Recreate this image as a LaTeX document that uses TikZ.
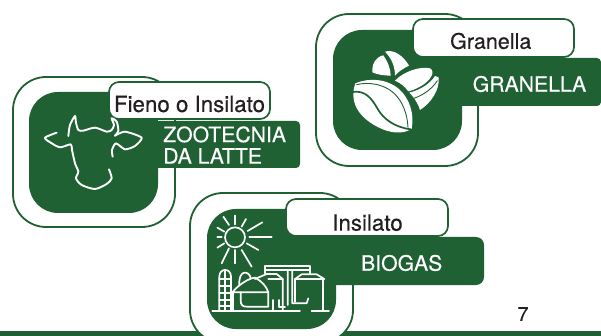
\documentclass[tikz,border=0pt]{standalone}
\usepackage{fontspec}
\setmainfont{TeX Gyre Heros}[FakeBold=0.35]
\newcommand{\heavy}{\addfontfeature{FakeBold=0.35}}
\definecolor{agri}{HTML}{1F6133}
\definecolor{ink}{HTML}{231F20}
\tikzset{
  outerbox/.style={draw=agri,line width=1.8pt,fill=white,rounded corners=33pt},
  innerbox/.style={fill=agri,rounded corners=29pt},
  bannerbox/.style={fill=agri,rounded corners=4pt},
  labelbox/.style={draw=agri,line width=1.7pt,fill=white,rounded corners=10pt},
  labeltext/.style={inner sep=0pt,text=ink,font=\fontsize{22.3}{24}\selectfont\heavy},
  bannertext/.style={inner sep=0pt,text=white,font=\fontsize{21.2}{21.5}\selectfont\heavy},
  icon/.style={draw=white,line width=1.9pt,line cap=round,line join=round},
  thinicon/.style={draw=white,line width=1.7pt,line cap=round,line join=round},
  groove/.style={draw=agri,line cap=round,line join=round},
  zoomcow/.style={shift={(40,100)},x=0.3333pt,y=-0.3333pt},
  zoombean/.style={shift={(340,40)},x=0.3333pt,y=-0.3333pt},
  zoombio/.style={shift={(205,205)},x=0.3333pt,y=-0.3333pt}
}
\begin{document}
\begin{tikzpicture}[x=1pt,y=-1pt]
\useasboundingbox (0,0) rectangle (601,336);
\clip (0,0) rectangle (601,336);
\fill[white] (0,0) rectangle (601,336);
\fill[agri] (0,331) rectangle (601,336);

% --- Zootecnia da latte
\draw[outerbox] (13,77) rectangle (175,227);
\fill[bannerbox] (140,121) rectangle (300,168);
\fill[innerbox] (29,92) rectangle (158,213);
\draw[labelbox] (109,82) rectangle (270,119);
\node[labeltext] (fieno) at (189.5,104) {Fieno o Insilato};
\node[bannertext,align=left,anchor=west] (zoo) at (163,145) {ZOOTECNIA\\DA LATTE};
\begin{scope}[zoomcow]
\draw[icon] plot[smooth,tension=0.45] coordinates {(50,98) (15,113) (32,128) (60,142) (92,133) (96,150) (105,190) (115,215) (108,235) (125,255) (165,267) (200,252) (215,235) (207,208)};
\draw[icon] plot[smooth,tension=0.45] coordinates {(85,108) (90,75) (105,48) (108,68) (115,90) (130,92) (165,83) (200,95) (215,90) (222,75) (215,55) (230,65) (235,92) (225,107)};
\draw[icon] plot[smooth,tension=0.4] coordinates {(225,107) (255,95) (305,113) (285,138) (255,148) (228,130) (216,150) (218,170)};
\end{scope}

% --- Granella
\draw[outerbox] (316,14) rectangle (478,166);
\fill[bannerbox] (440,58) rectangle (601,106);
\fill[innerbox] (333,30) rectangle (462,150);
\draw[labelbox] (413,19) rectangle (574,57);
\node[labeltext,font=\fontsize{21.5}{24}\selectfont\heavy] (gran) at (490.7,41) {Granella};
\node[bannertext] (granb) at (529.5,84) {GRANELLA};
\begin{scope}[zoombean]
% back bean
\fill[white] (97,97) .. controls (95,72) and (108,50) .. (130,46) .. controls (143,65) and (152,85) .. (152,107) .. controls (130,107) and (110,103) .. (97,97) -- cycle;
\fill[white] (135,35) .. controls (162,26) and (192,50) .. (207,77) .. controls (190,85) and (175,95) .. (165,107) .. controls (165,80) and (155,55) .. (135,35) -- cycle;
% right bean
\fill[white] (165,122) .. controls (190,95) and (240,78) .. (270,85) .. controls (288,95) and (272,122) .. (240,140) .. controls (225,148) and (215,152) .. (205,154) .. controls (195,140) and (180,128) .. (165,122) -- cycle;
\fill[white] (208,158) .. controls (240,150) and (270,132) .. (285,108) -- (296,112) .. controls (300,150) and (272,190) .. (240,210) .. controls (236,195) and (225,175) .. (208,158) -- cycle;
\draw[groove,line width=0.9pt] (222,175) .. controls (250,165) and (275,148) .. (292,122);
% big bean
\fill[white] (46,130) .. controls (85,113) and (140,115) .. (178,148) .. controls (208,175) and (224,222) .. (215,266) .. controls (190,284) and (150,280) .. (115,262) .. controls (75,242) and (22,200) .. (46,130) -- cycle;
\draw[groove,line width=1.7pt] (38,156) .. controls (75,150) and (95,175) .. (112,205) .. controls (130,238) and (165,262) .. (212,268);
\draw[groove,line width=0.9pt] (50,134) .. controls (85,125) and (130,132) .. (160,158) .. controls (188,183) and (202,222) .. (204,262);
\end{scope}

% --- Biogas
\draw[outerbox] (190,193) rectangle (353,343);
\fill[bannerbox,rounded corners=8pt] (320,237) rectangle (484,285);
\fill[innerbox] (207,209) rectangle (336,329);
\draw[labelbox] (286,199) rectangle (448,236);
\node[labeltext] (insil) at (367.5,222.7) {Insilato};
\node[bannertext] (bio) at (401.7,263) {BIOGAS};
\begin{scope}[zoombio]
% sun
\draw[thinicon] (90,97) circle[radius=10pt];
\foreach \ax/\ay/\bx/\by in {55/35/72/60, 90/32/90/58, 123/42/110/65, 172/52/128/78, 200/97/133/97, 160/135/125/115, 140/185/110/135, 90/175/90/135, 50/175/72/130, 37/128/58/115, 37/97/50/97, 37/68/58/80}
  \draw[thinicon] (\ax,\ay) -- (\bx,\by);
% ground
\draw[thinicon] (22,317) -- (285,317) (320,317) -- (372,317);
% silo
\draw[thinicon] (43,317) -- (43,215) .. controls (43,188) and (78,188) .. (78,215) -- (78,317);
\draw[thinicon] (60,198) -- (60,317);
\foreach \yy in {222,243,264,285,303}
  \draw[thinicon] (43,\yy) -- (78,\yy);
% digester dome
\draw[thinicon] (103,240) .. controls (100,195) and (130,195) .. (137,218);
\draw[thinicon] (82,262) .. controls (100,240) and (130,220) .. (150,218) .. controls (170,228) and (185,245) .. (190,262) -- (82,262);
\draw[thinicon] (85,262) -- (85,317);
\draw[thinicon] (107,262) -- (107,285) .. controls (107,300) and (112,305) .. (125,305) -- (190,305) -- (190,262);
% middle tank
\draw[thinicon] (150,222) -- (185,207) -- (215,207) -- (233,222) -- (233,317);
\draw[thinicon] (190,222) -- (233,222);
% pipes on top
\draw[thinicon] (180,205) -- (180,182) -- (315,182) -- (315,205);
\draw[thinicon] (182,195) -- (313,195);
\draw[thinicon] (248,195) -- (248,300) (262,195) -- (262,295) -- (305,295) -- (310,280);
% right tank
\draw[thinicon] (270,222) -- (290,208) -- (335,208) -- (358,222) -- (270,222);
\draw[thinicon] (270,222) -- (270,290) (355,222) -- (355,317);
% small pipes
\draw[thinicon] (205,285) -- (205,317) (222,285) -- (222,305) -- (240,305);
\end{scope}

% --- page number
\node[inner sep=0pt,text=ink,font=\fontsize{20}{24}\selectfont] (pagenum) at (523,314) {7};
\end{tikzpicture}
\end{document}
